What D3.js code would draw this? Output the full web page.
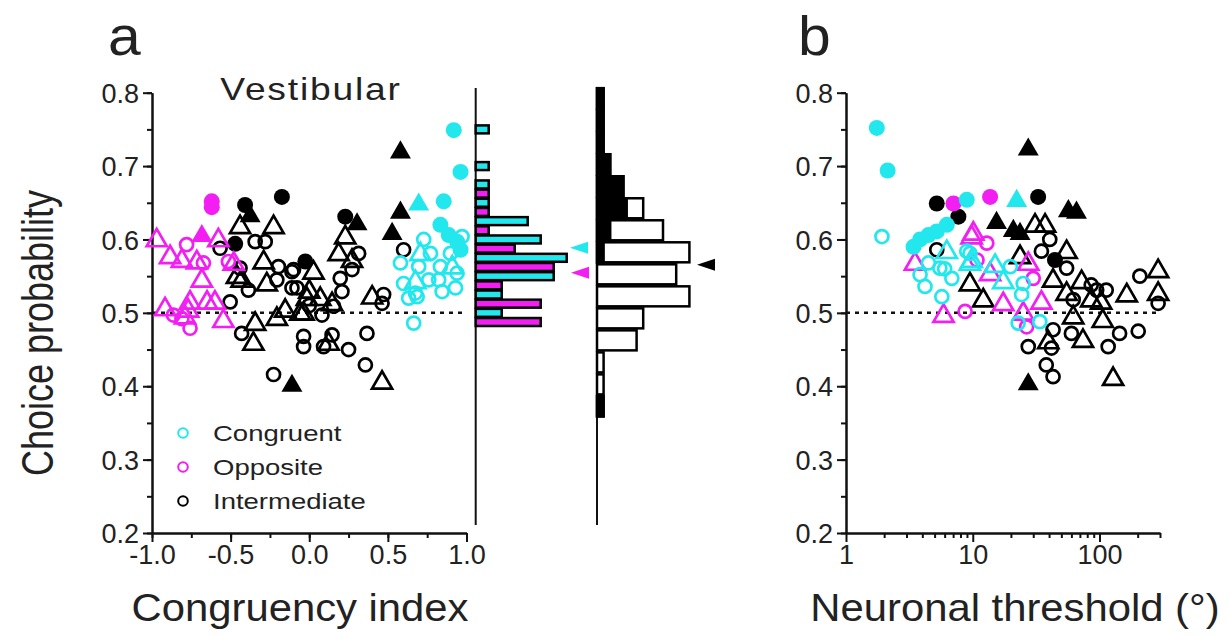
<!DOCTYPE html>
<html><head><meta charset="utf-8">
<script src="https://cdn.jsdelivr.net/npm/d3@7"></script>
<style>body{margin:0;background:#fff}svg{display:block}text{font-family:"Liberation Sans",Arial,sans-serif;fill:#222}</style>
</head><body><svg id="c" width="1229" height="636"></svg>
<script>
// ---------- data ----------
const yTicks = [0.2,0.3,0.4,0.5,0.6,0.7,0.8];
const ciTicks = [-1.0,-0.5,0.0,0.5,1.0];
const thrTicks = [1,10,100];
const legendLabels = ["Congruent","Opposite","Intermediate"];
// symbols: oc open circle, fc filled circle, ot open triangle, ft filled triangle
// Panel a: [congruency index, choice probability, symbol]
const congruentA = [
 [0.919,0.749,"fc"],[0.962,0.692,"fc"],[0.855,0.652,"fc"],[0.834,0.62,"fc"],[0.887,0.606,"fc"],[0.94,0.597,"fc"],[0.962,0.586,"fc"],
 [0.696,0.649,"ft"],
 [0.728,0.6,"oc"],[0.58,0.568,"oc"],[0.6,0.54,"oc"],[0.632,0.52,"oc"],[0.686,0.522,"oc"],[0.696,0.563,"oc"],[0.771,0.581,"oc"],[0.76,0.545,"oc"],
 [0.834,0.563,"oc"],[0.823,0.545,"oc"],[0.845,0.529,"oc"],[0.93,0.534,"oc"],[0.94,0.554,"oc"],[0.898,0.581,"oc"],[0.972,0.604,"oc"],[0.664,0.486,"oc"],[0.675,0.527,"oc"],
 [0.707,0.581,"ot"],[0.675,0.543,"ot"],[0.909,0.563,"ot"]
];
const oppositeA = [
 [-0.62,0.652,"fc"],[-0.62,0.644,"fc"],[-0.683,0.606,"ft"],
 [-0.97,0.6,"ot"],[-0.885,0.577,"ot"],[-0.81,0.572,"ot"],[-0.715,0.57,"ot"],[-0.683,0.545,"ot"],[-0.578,0.6,"ot"],[-0.48,0.568,"ot"],
 [-0.917,0.506,"ot"],[-0.758,0.515,"ot"],[-0.77,0.504,"ot"],[-0.65,0.515,"ot"],[-0.6,0.515,"ot"],[-0.546,0.49,"ot"],[-0.79,0.495,"ot"],
 [-0.78,0.593,"oc"],[-0.673,0.568,"oc"],[-0.514,0.57,"oc"],[-0.864,0.497,"oc"],[-0.758,0.479,"oc"],[-0.81,0.492,"oc"]
];
const intermediateA = [
 [-0.408,0.647,"fc"],[-0.174,0.658,"fc"],[-0.471,0.594,"fc"],[-0.025,0.57,"fc"],[0.229,0.631,"fc"],
 [-0.376,0.633,"ft"],[-0.11,0.402,"ft"],[0.58,0.72,"ft"],[0.58,0.638,"ft"],[0.527,0.609,"ft"],[0.304,0.622,"ft"],
 [-0.44,0.618,"ot"],[-0.227,0.618,"ot"],[-0.29,0.57,"ot"],[-0.46,0.55,"ot"],[-0.43,0.545,"ot"],[-0.27,0.54,"ot"],[-0.344,0.486,"ot"],[-0.355,0.459,"ot"],
 [-0.206,0.493,"ot"],[-0.153,0.504,"ot"],[-0.036,0.5,"ot"],[0.229,0.604,"ot"],[0.187,0.581,"ot"],[0.272,0.572,"ot"],[0.027,0.556,"ot"],[-0.015,0.52,"ot"],
 [0.07,0.52,"ot"],[0.145,0.513,"ot"],[-0.057,0.5,"ot"],[0.4,0.522,"ot"],[0.463,0.406,"ot"],[0.123,0.459,"ot"],[0.0,0.53,"ot"],
 [-0.567,0.588,"oc"],[-0.344,0.597,"oc"],[-0.28,0.597,"oc"],[-0.44,0.561,"oc"],[-0.387,0.531,"oc"],[-0.503,0.515,"oc"],[-0.43,0.472,"oc"],[-0.196,0.563,"oc"],
 [-0.11,0.556,"oc"],[-0.206,0.545,"oc"],[-0.11,0.534,"oc"],[-0.036,0.468,"oc"],[-0.036,0.454,"oc"],[-0.227,0.416,"oc"],[0.314,0.581,"oc"],[0.272,0.559,"oc"],
 [0.197,0.547,"oc"],[0.208,0.529,"oc"],[0.155,0.509,"oc"],[0.081,0.497,"oc"],[-0.1,0.559,"oc"],[-0.078,0.534,"oc"],[0.473,0.525,"oc"],[0.463,0.513,"oc"],
 [0.6,0.586,"oc"],[0.091,0.454,"oc"],[0.145,0.47,"oc"],[0.25,0.45,"oc"],[0.367,0.472,"oc"],[0.357,0.429,"oc"],[0.0,0.51,"oc"]
];
// Panel b: [neuronal threshold (deg), choice probability, symbol]
const congruentB = [
 [1.75,0.752,"fc"],[2.13,0.694,"fc"],[3.41,0.59,"fc"],[3.84,0.6,"fc"],[4.47,0.606,"fc"],[5.2,0.611,"fc"],[6.24,0.62,"fc"],[8.97,0.654,"fc"],
 [22.2,0.654,"ft"],
 [1.92,0.604,"oc"],[4.47,0.568,"oc"],[3.84,0.552,"oc"],[4.2,0.536,"oc"],[5.5,0.561,"oc"],[6.84,0.547,"oc"],[5.7,0.522,"oc"],[8.97,0.584,"oc"],
 [19.8,0.563,"oc"],[25,0.54,"oc"],[24.3,0.525,"oc"],[22.8,0.486,"oc"],[33.8,0.488,"oc"],[9.5,0.581,"oc"],[6.0,0.56,"oc"],
 [6.24,0.584,"ot"],[9.5,0.568,"ot"],[15,0.565,"ot"],[17.4,0.543,"ot"],[9.8,0.572,"ot"]
];
const oppositeB = [
 [7.04,0.649,"fc"],[13.7,0.658,"fc"],
 [5.88,0.497,"ot"],[9.8,0.604,"ot"],[3.5,0.568,"ot"],[27.4,0.568,"ot"],[34.8,0.515,"ot"],[17.4,0.513,"ot"],[25,0.5,"ot"],[13.7,0.554,"ot"],[10.1,0.609,"ot"],
 [8.7,0.502,"oc"],[12.9,0.595,"oc"],[30,0.547,"oc"],[10.8,0.572,"oc"],[26.6,0.481,"oc"]
];
const intermediateB = [
 [5.2,0.649,"fc"],[7.7,0.631,"fc"],[32.8,0.658,"fc"],[44.5,0.572,"fc"],
 [27.4,0.724,"ft"],[27.4,0.404,"ft"],[56.8,0.64,"ft"],[65.8,0.638,"ft"],[15.4,0.624,"ft"],[20.9,0.613,"ft"],[23.6,0.609,"ft"],
 [31,0.62,"ot"],[37.2,0.62,"ot"],[55,0.584,"ot"],[23.6,0.577,"ot"],[72.2,0.543,"ot"],[43,0.545,"ot"],[55,0.527,"ot"],[103,0.515,"ot"],[164,0.525,"ot"],
 [290,0.558,"ot"],[290,0.527,"ot"],[62,0.495,"ot"],[74,0.463,"ot"],[106,0.49,"ot"],[39.4,0.461,"ot"],[128,0.411,"ot"],[86,0.518,"ot"],[9.5,0.54,"ot"],[12.1,0.518,"ot"],
 [5.2,0.586,"oc"],[40.5,0.6,"oc"],[34.8,0.584,"oc"],[55,0.561,"oc"],[86,0.538,"oc"],[113,0.531,"oc"],[208,0.55,"oc"],[62,0.518,"oc"],[60,0.472,"oc"],
 [27.4,0.454,"oc"],[43,0.477,"oc"],[41.8,0.452,"oc"],[38,0.429,"oc"],[43,0.413,"oc"],[117,0.454,"oc"],[144,0.472,"oc"],[202,0.475,"oc"],[95,0.531,"oc"],[290,0.513,"oc"]
];
// Histogram 1 (congruent / opposite): bar centre CP and count
const congruentHistCP = [0.75,0.70,0.675,0.65,0.625,0.60,0.575,0.55,0.525,0.50];
const congruentHistN  = [1,1,1,1,4,5,7,6,2,2];
const oppositeHistCP  = [0.6625,0.6375,0.6125,0.5875,0.5625,0.5375,0.5125,0.4875];
const oppositeHistN   = [1,1,1,3,6,2,5,5];
// Histogram 2 (intermediate): bin centre, total count, significant (filled) count
const interHistCP  = [0.7925,0.7625,0.7325,0.7025,0.6725,0.6425,0.6125,0.5825,0.5525,0.5225,0.4925,0.4625,0.4325,0.4025,0.3725];
const interHistN   = [1,1,1,2,4,7,10,14,12,14,7,6,1,1,1];
const interHistSig = [1,1,1,2,4,4.5,2,1,0,0,0,0,0,0,1];
// mean CP arrows
const meanCongruent = 0.5886, meanOpposite = 0.5545, meanIntermediate = 0.5655;

// ---------- drawing ----------
const CYAN="#22e8ee", MAG="#f21ef2", BLK="#000";
const svg = d3.select("#c");
const FONT='"Liberation Sans",Arial,sans-serif';
const y = d3.scaleLinear().domain([0.2,0.8]).range([533,92.7]);
const xa = d3.scaleLinear().domain([-1,1]).range([152,466.5]);
const xb = d3.scaleLog().domain([1,300]).range([846,1160]);

function stext(x,yy,str,size,anchor,sx,extra){
  const t = svg.append("text").attr("transform",`translate(${x},${yy}) scale(${sx},1)`)
    .attr("text-anchor",anchor).attr("font-size",size).text(str);
  if(extra) extra(t);
  return t;
}
function styleAxis(g, fs){
  g.selectAll("path.domain").attr("stroke","#111").attr("stroke-width",2);
  g.selectAll(".tick line").attr("stroke","#111").attr("stroke-width",2);
  g.selectAll("text").attr("font-size",fs).attr("font-family",FONT).attr("fill","#222");
}
// y axes
function yAxis(x0){
  const minor = d3.range(0.2,0.801,0.05).map(v=>+v.toFixed(2));
  const gm = svg.append("g").attr("transform",`translate(${x0},0)`)
    .call(d3.axisLeft(y).tickValues(minor).tickSize(5).tickFormat("").tickSizeOuter(0));
  styleAxis(gm,27);
  const g = svg.append("g").attr("transform",`translate(${x0},0)`)
    .call(d3.axisLeft(y).tickValues(yTicks).tickSize(9).tickPadding(4).tickFormat(d3.format(".1f")).tickSizeOuter(0));
  styleAxis(g,27);
  g.selectAll("text").attr("dy","0.36em");
}
yAxis(152); yAxis(846);
// x axis a
{
  const gm = svg.append("g").attr("transform","translate(0,533)")
    .call(d3.axisBottom(xa).tickValues(d3.range(-1,1.01,0.25)).tickSize(5).tickFormat("").tickSizeOuter(0));
  styleAxis(gm,27);
  const g = svg.append("g").attr("transform","translate(0,533)")
    .call(d3.axisBottom(xa).tickValues(ciTicks).tickSize(9).tickPadding(3).tickFormat(d3.format(".1f")).tickSizeOuter(0));
  styleAxis(g,27);
  g.selectAll("text").text(d=>d3.format(".1f")(d).replace("−","-"));
}
// x axis b
{
  const minor=[]; [1,10,100].forEach(d=>{for(let k=2;k<=9;k++){if(d*k<=300)minor.push(d*k);}});
  const gm = svg.append("g").attr("transform","translate(0,533)")
    .call(d3.axisBottom(xb).tickValues(minor).tickSize(5).tickFormat("").tickSizeOuter(0));
  styleAxis(gm,27);
  const g = svg.append("g").attr("transform","translate(0,533)")
    .call(d3.axisBottom(xb).tickValues(thrTicks).tickSize(9).tickPadding(3).tickFormat(d3.format("d")).tickSizeOuter(0));
  styleAxis(g,27);
}
// dotted chance lines
svg.append("line").attr("x1",xa(-1)).attr("x2",xa(1)).attr("y1",y(0.5)).attr("y2",y(0.5))
  .attr("stroke","#111").attr("stroke-width",2.5).attr("stroke-dasharray","4,5");
svg.append("line").attr("x1",xb(1)).attr("x2",xb(300)).attr("y1",y(0.5)).attr("y2",y(0.5))
  .attr("stroke","#111").attr("stroke-width",2.5).attr("stroke-dasharray","4,5");

// markers
const triPath = d3.symbol().type(d3.symbolTriangle).size(175)();
const triPathF = d3.symbol().type(d3.symbolTriangle).size(190)();
function drawPts(data, xs, color){
  const g = svg.append("g");
  data.forEach(d=>{
    const cx = xs(d[0]), cy = y(d[1]);
    if(d[2]==="oc") g.append("circle").attr("cx",cx).attr("cy",cy).attr("r",6.5).attr("fill","none").attr("stroke",color).attr("stroke-width",2.7);
    else if(d[2]==="fc") g.append("circle").attr("cx",cx).attr("cy",cy).attr("r",8).attr("fill",color);
    else if(d[2]==="ot") g.append("path").attr("d",triPath).attr("transform",`translate(${cx},${cy+1})`).attr("fill","none").attr("stroke",color).attr("stroke-width",2.7).attr("stroke-linejoin","miter");
    else g.append("path").attr("d",triPathF).attr("transform",`translate(${cx},${cy+1})`).attr("fill",color);
  });
}
drawPts(intermediateA, xa, BLK); drawPts(oppositeA, xa, MAG); drawPts(congruentA, xa, CYAN);
drawPts(intermediateB, xb, BLK); drawPts(oppositeB, xb, MAG); drawPts(congruentB, xb, CYAN);

// histogram 1
const h1x0 = 475.7, h1u = 13;
svg.append("line").attr("x1",h1x0).attr("x2",h1x0).attr("y1",88).attr("y2",525).attr("stroke","#111").attr("stroke-width",2);
const hh = y(0.5)-y(0.5125);
congruentHistCP.forEach((c,i)=>{
  svg.append("rect").attr("x",h1x0).attr("y",y(c)-hh/2+0.6).attr("width",congruentHistN[i]*h1u).attr("height",hh-1.2)
    .attr("fill",CYAN).attr("stroke","#000").attr("stroke-width",2.5);
});
oppositeHistCP.forEach((c,i)=>{
  svg.append("rect").attr("x",h1x0).attr("y",y(c)-hh/2+0.6).attr("width",oppositeHistN[i]*h1u).attr("height",hh-1.2)
    .attr("fill",MAG).attr("stroke","#000").attr("stroke-width",2.5);
});
// histogram 2
const h2x0 = 597, h2u = 6.6;
svg.append("line").attr("x1",h2x0).attr("x2",h2x0).attr("y1",88).attr("y2",525).attr("stroke","#111").attr("stroke-width",2);
const bh = y(0.5)-y(0.53);
interHistCP.forEach((c,i)=>{
  svg.append("rect").attr("x",h2x0).attr("y",y(c)-bh/2+1).attr("width",interHistN[i]*h2u).attr("height",bh-2)
    .attr("fill","#fff").attr("stroke","#000").attr("stroke-width",2.5);
  if(interHistSig[i]>0)
    svg.append("rect").attr("x",h2x0).attr("y",y(c)-bh/2+1).attr("width",interHistSig[i]*h2u).attr("height",bh-2)
      .attr("fill","#000").attr("stroke","#000").attr("stroke-width",2.5);
});
// arrows
function arrow(xTip, v, color){
  const yy=y(v);
  svg.append("path").attr("d",`M${xTip},${yy} L${xTip+18},${yy-6} L${xTip+18},${yy+6} Z`).attr("fill",color);
}
arrow(570, meanCongruent, CYAN); arrow(571, meanOpposite, MAG); arrow(697, meanIntermediate, BLK);

// legend
const legColors=[CYAN,MAG,BLK];
legendLabels.forEach((l,i)=>{
  const ly = 433 + i*34;
  svg.append("circle").attr("cx",183).attr("cy",ly).attr("r",4.8).attr("fill","none").attr("stroke",legColors[i]).attr("stroke-width",2);
  stext(213, ly+8, l, 22, "start", 1.25);
});
// titles
stext(311, 100, "Vestibular", 31, "middle", 1.2, t=>t.attr("letter-spacing","1.5px"));
stext(108, 55, "a", 56, "start", 1.05);
stext(798, 55, "b", 56, "start", 1.05);
stext(300, 621, "Congruency index", 38, "middle", 1.1);
stext(1015, 621, "Neuronal threshold (°)", 38, "middle", 1.1);
svg.append("text").attr("transform","translate(53,333) rotate(-90) scale(1,1.25)").attr("text-anchor","middle").attr("font-size",36).text("Choice probability");
</script></body></html>
